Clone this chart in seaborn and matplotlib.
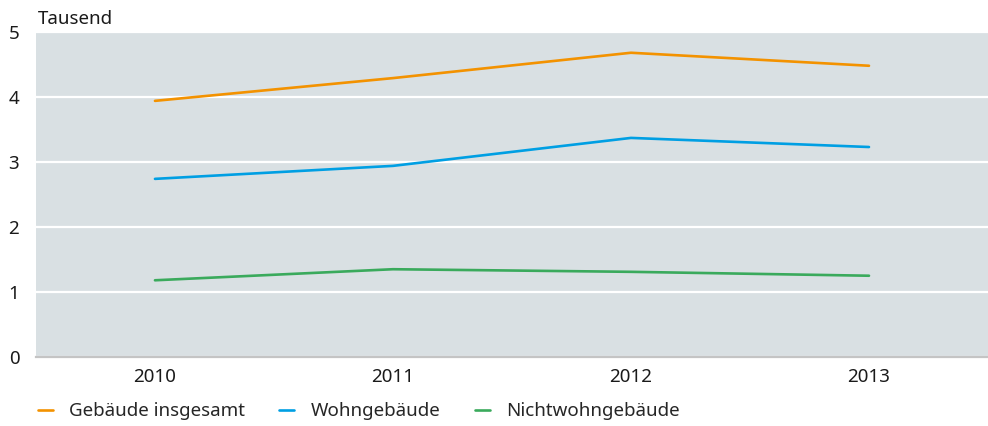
#!/usr/bin/env python3
import matplotlib
matplotlib.use("Agg")
import matplotlib.pyplot as plt
import pandas as pd
import seaborn as sns

# Data (thousands)
years = ["2010", "2011", "2012", "2013"]
gebaeude_insgesamt = [3.94, 4.29, 4.68, 4.48]
wohngebaeude = [2.74, 2.94, 3.37, 3.23]
nichtwohngebaeude = [1.18, 1.35, 1.31, 1.25]
series_names = ["Gebäude insgesamt", "Wohngebäude", "Nichtwohngebäude"]
colors = ["#f39200", "#009fe3", "#3aaa5c"]

df = pd.DataFrame({
    "Jahr": years * 3,
    "Wert": gebaeude_insgesamt + wohngebaeude + nichtwohngebaeude,
    "Reihe": [s for s in series_names for _ in years],
})

sns.set_style("white")
plt.rcParams["font.family"] = ["Noto Sans", "DejaVu Sans"]

fig = plt.figure(figsize=(9.88, 4.26), dpi=100)
ax = fig.add_axes([0.0364, 0.162, 0.9636, 0.763])
ax.set_facecolor("#d9e0e3")

sns.lineplot(data=df, x="Jahr", y="Wert", hue="Reihe", palette=colors,
             hue_order=series_names, linewidth=1.9, ax=ax, legend=True, sort=False)

ax.set_ylim(0, 5)
ax.set_xlim(-0.5, 3.5)
ax.set_yticks([0, 1, 2, 3, 4, 5])
ax.yaxis.grid(True, color="white", linewidth=1.6)
ax.xaxis.grid(False)
ax.set_axisbelow(True)
for side in ["top", "right", "left"]:
    ax.spines[side].set_visible(False)
ax.spines["bottom"].set_color("#c4c4c4")
ax.spines["bottom"].set_linewidth(1.6)
ax.tick_params(axis="both", length=0, labelsize=13.5, colors="#1a1a1a")
ax.tick_params(axis="y", pad=12)
ax.tick_params(axis="x", pad=8)
ax.set_xlabel("")
ax.set_ylabel("")

fig.text(0.0385, 0.955, "Tausend", fontsize=13.5, color="#1a1a1a", va="center", ha="left")

handles, labels = ax.get_legend_handles_labels()
ax.legend(handles, labels, loc="center left", bbox_to_anchor=(0.021, 0.035),
          bbox_transform=fig.transFigure, ncol=3, frameon=False, fontsize=13.5,
          handlelength=0.8, handletextpad=0.9, columnspacing=1.8)

plt.savefig("out.png", dpi=100)
plt.close()
